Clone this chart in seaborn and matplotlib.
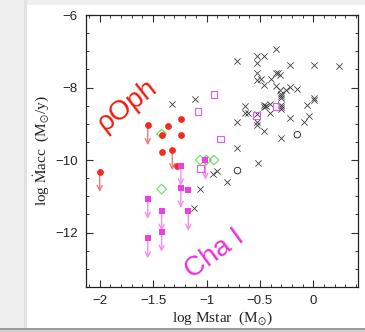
import matplotlib
matplotlib.use("Agg")
import matplotlib.pyplot as plt
from matplotlib.patches import Rectangle
from matplotlib.ticker import MultipleLocator
import seaborn as sns

# rho Oph detections (filled red circles); upper limits flagged
oph_logm = [-2.0, -1.55, -1.42, -1.36, -1.24, -1.24, -1.42, -1.32, -1.28]
oph_logmacc = [-10.33, -9.04, -9.32, -9.05, -8.87, -9.31, -9.77, -9.73, -10.15]
oph_upper = [True, True, False, False, False, False, False, True, False]

# Cha I (filled magenta squares), all upper limits except one
cha_logm = [-1.55, -1.55, -1.42, -1.42, -1.24, -1.24, -1.17, -1.17, -1.01]
cha_logmacc = [-11.07, -12.16, -11.40, -11.98, -10.15, -10.77, -10.82, -11.40, -9.99]
cha_upper = [True, True, True, True, True, True, False, True, True]

# open green diamonds
dia_logm = [-1.42, -1.42, -1.06, -1.0, -0.93]
dia_logmacc = [-9.28, -10.80, -10.0, -10.0, -10.0]

# open pink squares
osq_logm = [-1.08, -0.93, -0.87, -1.06, -0.53, -0.35]
osq_logmacc = [-8.67, -8.19, -9.42, -10.24, -8.78, -8.52]

# open black circles
circ_logm = [-0.71, -0.15]
circ_logmacc = [-10.29, -9.30]

# literature sample (black crosses)
x_logm = [-1.32, -1.11, -0.71, -0.64, -0.64, -0.61, -0.71, -0.53, -0.46, -0.53,
          -0.35, -0.22, 0.01, 0.24, -0.53, -0.53, -0.49, -0.46, -0.40, -0.35,
          -0.33, -0.31, -0.35, -0.31, -0.30, -0.30, -0.30, -0.26, -0.22, -0.15,
          0.01, 0.01, -0.46, -0.46, -0.44, -0.41, -0.41, -0.30, -0.30, -0.30,
          -0.22, -0.06, -0.04, -0.09, -0.53, -0.53, -0.53, -0.46, -0.30, -0.71,
          -0.52, -0.90, -0.94, -0.81, -1.06, -1.12]
x_logmacc = [-8.45, -8.32, -7.27, -8.50, -8.69, -8.69, -8.94, -7.13, -7.13, -7.31,
             -6.94, -7.37, -7.39, -7.41, -7.59, -7.79, -7.77, -7.92, -7.77, -7.61,
             -7.61, -7.66, -7.95, -8.06, -8.17, -8.23, -8.30, -8.06, -7.98, -8.03,
             -8.28, -8.34, -8.49, -8.54, -8.50, -8.45, -8.71, -8.49, -8.54, -8.60,
             -8.83, -8.49, -8.78, -8.96, -8.72, -8.94, -9.02, -9.19, -9.40, -9.67,
             -10.07, -10.30, -10.39, -10.61, -10.80, -11.31]

ARROW_LEN = 0.55

sns.set_style("ticks")
plt.rcParams["mathtext.fontset"] = "stix"

fig = plt.figure(figsize=(3.65, 3.32), dpi=100)
fig.patch.set_facecolor("white")

# page background around the card
fig.patches.append(Rectangle((0, 0), 27 / 365, 1, transform=fig.transFigure,
                             facecolor="#efefef", edgecolor="none", zorder=-5))
fig.patches.append(Rectangle((0, 1 - 5 / 332), 1, 5 / 332, transform=fig.transFigure,
                             facecolor="#efefef", edgecolor="none", zorder=-5))
fig.patches.append(Rectangle((24 / 365, 0), 3 / 365, 1, transform=fig.transFigure,
                             facecolor="#e2e2e2", edgecolor="none", zorder=-4))
fig.patches.append(Rectangle((0, 0), 1, 4 / 332, transform=fig.transFigure,
                             facecolor="#9a9a9a", edgecolor="none", zorder=-3))
fig.patches.append(Rectangle((0, 0), 1, 2 / 332, transform=fig.transFigure,
                             facecolor="#d0d0d0", edgecolor="none", zorder=-2))

ax = fig.add_axes([86 / 365, 1 - 287 / 332, 272 / 365, 272 / 332])
ax.set_facecolor("white")

# crosses
sns.scatterplot(x=x_logm, y=x_logmacc, marker="x", s=20, color="#3a3a3a",
                linewidth=0.6, ax=ax, zorder=3)

# open circles
sns.scatterplot(x=circ_logm, y=circ_logmacc, marker="o", s=22, facecolor="none",
                edgecolor="#333333", linewidth=0.7, ax=ax, zorder=3)

# open pink squares
sns.scatterplot(x=osq_logm, y=osq_logmacc, marker="s", s=24, facecolor="none",
                edgecolor="#e25be6", linewidth=0.8, ax=ax, zorder=3)

# open green diamonds
sns.scatterplot(x=dia_logm, y=dia_logmacc, marker="D", s=24, facecolor="none",
                edgecolor="#66e05a", linewidth=0.8, ax=ax, zorder=3)

# upper limit arrows
for xv, yv, up in zip(oph_logm, oph_logmacc, oph_upper):
    if up:
        ax.annotate("", xy=(xv, yv - ARROW_LEN), xytext=(xv, yv),
                    arrowprops=dict(arrowstyle="->", color="#f07a78", lw=1.0,
                                    shrinkA=0, shrinkB=0, mutation_scale=9),
                    zorder=2)
for xv, yv, up in zip(cha_logm, cha_logmacc, cha_upper):
    if up:
        ax.annotate("", xy=(xv, yv - ARROW_LEN), xytext=(xv, yv),
                    arrowprops=dict(arrowstyle="->", color="#f78cf0", lw=1.0,
                                    shrinkA=0, shrinkB=0, mutation_scale=9),
                    zorder=2)

# rho Oph filled circles
sns.scatterplot(x=oph_logm, y=oph_logmacc, marker="o", s=24, color="#f42a20",
                edgecolor="#f42a20", linewidth=0, ax=ax, zorder=4)

# Cha I filled squares
sns.scatterplot(x=cha_logm, y=cha_logmacc, marker="s", s=14, color="#f23ee0",
                edgecolor="#f23ee0", linewidth=0, ax=ax, zorder=4)

# region names
ax.text(-1.745, -8.50, "ρOph", color="#ee1c0c", fontsize=20, rotation=38,
        ha="center", va="center", family=["Liberation Sans", "DejaVu Sans"])
ax.text(-0.92, -12.60, "Cha I", color="#ee30d8", fontsize=20, rotation=36,
        ha="center", va="center", family=["Liberation Sans", "DejaVu Sans"])

ax.set_xlim(-2.128, 0.418)
ax.set_ylim(-13.5, -6)
ax.xaxis.set_minor_locator(MultipleLocator(0.1))
ax.yaxis.set_minor_locator(MultipleLocator(0.5))
ax.set_xticks([-2, -1.5, -1, -0.5, 0])
ax.set_xticklabels(["\u22122", "\u22121.5", "\u22121", "\u22120.5", "0"])
ax.set_yticks([-12, -10, -8, -6])
ax.set_yticklabels(["\u221212", "\u221210", "\u22128", "\u22126"])

ax.tick_params(which="both", direction="in", top=True, right=True, color="#333333",
               labelsize=9.5, labelcolor="#222222", pad=6)
ax.tick_params(which="major", length=5, width=0.8)
ax.tick_params(which="minor", length=2.5, width=0.7)
for lab in ax.get_xticklabels() + ax.get_yticklabels():
    lab.set_family("Liberation Sans")

for sp in ax.spines.values():
    sp.set_color("#222222")
    sp.set_linewidth(0.9)

ax.set_xlabel("log Mstar  (M$_{\\odot}$)", family="Liberation Serif", fontsize=11,
              color="#222222", labelpad=2)
ax.set_ylabel("log $\\dot{\\rm M}$acc  (M$_{\\odot}$/y)", family="Liberation Serif",
              fontsize=11, color="#222222", labelpad=3)

fig.savefig("out.png", dpi=100, facecolor=fig.get_facecolor())
